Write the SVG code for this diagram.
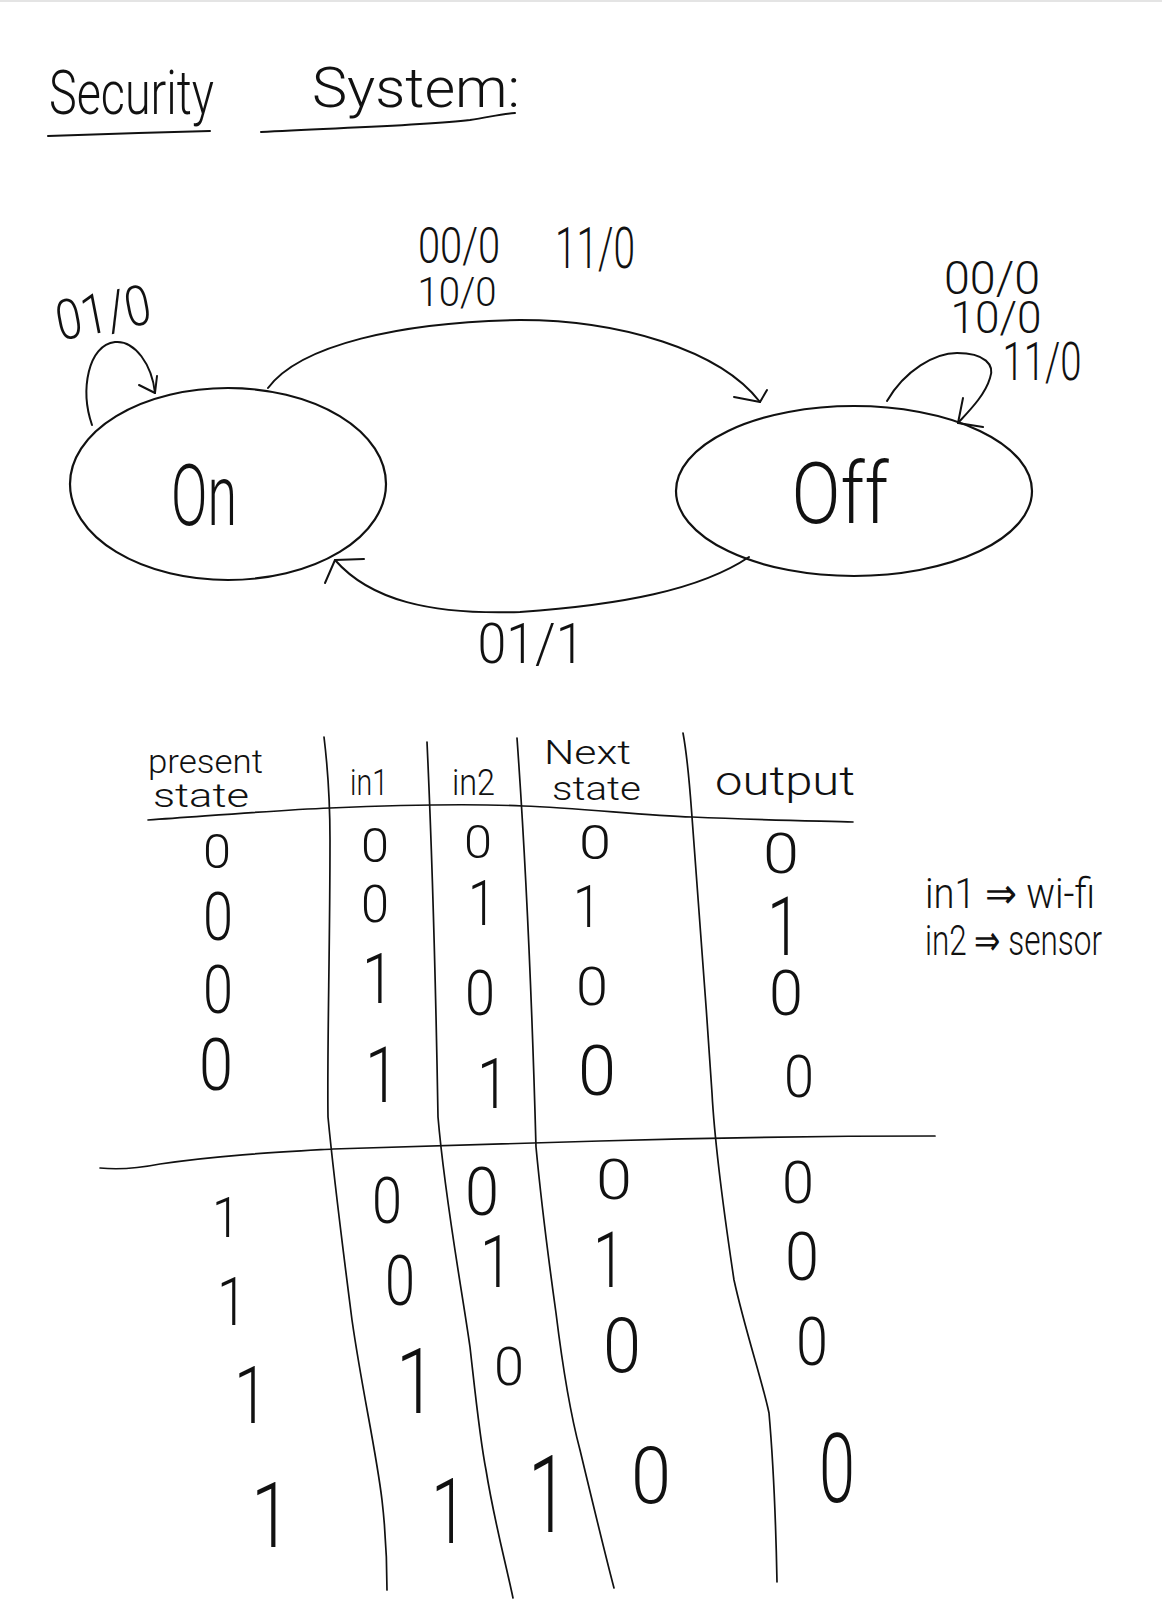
<svg xmlns="http://www.w3.org/2000/svg" width="1162" height="1600" viewBox="0 0 1162 1600">
<defs>
<style>
.hw{font-family:Roboto,"Liberation Sans",sans-serif;font-weight:300;fill:#111;}
.m{text-anchor:middle;}
.ln{fill:none;stroke:#111;stroke-width:2;stroke-linecap:round;stroke-linejoin:round;}
.tl{fill:none;stroke:#111;stroke-width:1.7;stroke-linecap:round;stroke-linejoin:round;}
.st{fill:none;stroke:#111;stroke-width:2.2;}
</style>
</defs>
<rect x="0" y="0" width="1162" height="1600" fill="#fff"/>
<rect x="0" y="0" width="1162" height="2" fill="#e4e4e4"/>

<g id="title">
<text class="hw" x="49" y="114" font-size="62" textLength="165" lengthAdjust="spacingAndGlyphs">Security</text>
<text class="hw" x="312" y="107" font-size="55" textLength="208" lengthAdjust="spacingAndGlyphs">System:</text>
<path class="ln" d="M48,136 Q130,133 210,131"/>
<path class="ln" d="M261,132 C330,128 420,126 470,120 C490,117 500,114 515,113"/>
</g>

<g id="node-on">
<ellipse class="st" cx="228" cy="484" rx="158" ry="96"/>
<text class="hw m" x="204" y="525" font-size="86" textLength="66" lengthAdjust="spacingAndGlyphs">On</text>
</g>

<g id="node-off">
<ellipse class="st" cx="854" cy="491" rx="178" ry="85"/>
<text class="hw m" x="840" y="523" font-size="86" textLength="97" lengthAdjust="spacingAndGlyphs">Off</text>
</g>

<g id="connectors">
<path class="ln" d="M268,388 C300,345 400,322 520,320 C620,320 720,350 760,402"/>
<path class="ln" d="M734,397 L760,402 L767,390"/>
<path class="ln" d="M749,557 C700,590 620,605 520,612 C430,615 370,600 335,560"/>
<path class="ln" d="M364,559 L335,560 L325,583"/>
<path class="ln" d="M92,425 C80,390 88,345 115,342 C135,340 152,365 155,393"/>
<path class="ln" d="M139,385 L155,393 L157,376"/>
<path class="ln" d="M887,401 C905,370 935,353 957,353 C985,353 995,365 990,378 C985,395 970,410 958,423"/>
<path class="ln" d="M963,398 L958,423 L983,427"/>
</g>

<g id="labels">
<text class="hw m" x="103" y="332" font-size="56" textLength="96" lengthAdjust="spacingAndGlyphs" transform="rotate(-11 103 312)">01/0</text>
<text class="hw m" x="459" y="263" font-size="50" textLength="82" lengthAdjust="spacingAndGlyphs">00/0</text>
<text class="hw m" x="457" y="306" font-size="40" textLength="79" lengthAdjust="spacingAndGlyphs">10/0</text>
<text class="hw m" x="595" y="268" font-size="57" textLength="80" lengthAdjust="spacingAndGlyphs">11/0</text>
<text class="hw m" x="992" y="294" font-size="46" textLength="96" lengthAdjust="spacingAndGlyphs">00/0</text>
<text class="hw m" x="996" y="333" font-size="44" textLength="91" lengthAdjust="spacingAndGlyphs">10/0</text>
<text class="hw m" x="1042" y="380" font-size="54" textLength="79" lengthAdjust="spacingAndGlyphs">11/0</text>
<text class="hw m" x="531" y="663" font-size="56" textLength="107" lengthAdjust="spacingAndGlyphs">01/1</text>
</g>

<g id="table">
<text class="hw" x="148" y="773" font-size="34" textLength="115" lengthAdjust="spacingAndGlyphs">present</text>
<text class="hw" x="153" y="807" font-size="34" textLength="96" lengthAdjust="spacingAndGlyphs">state</text>
<text class="hw" x="350" y="795" font-size="36" textLength="38" lengthAdjust="spacingAndGlyphs">in1</text>
<text class="hw" x="452" y="795" font-size="36" textLength="43" lengthAdjust="spacingAndGlyphs">in2</text>
<text class="hw" x="544" y="764" font-size="34" textLength="87" lengthAdjust="spacingAndGlyphs">Next</text>
<text class="hw" x="552" y="800" font-size="34" textLength="89" lengthAdjust="spacingAndGlyphs">state</text>
<text class="hw" x="715" y="795" font-size="40" textLength="140" lengthAdjust="spacingAndGlyphs">output</text>

<path class="tl" d="M148,820 C220,815 280,810 330,808 C400,805 480,804 523,806 C580,808 640,815 692,817 C760,820 820,821 853,822"/>
<path class="tl" d="M100,1168 C120,1170 140,1168 160,1164 C220,1155 281,1152 333,1149 C450,1146 539,1143 600,1141 C700,1138 800,1136 935,1136"/>

<path class="tl" d="M324,737 C328,770 330,800 330,840 C330,950 327,1050 328,1117 C334,1180 343,1250 352,1320 C362,1390 376,1450 382,1500 C386,1535 387,1560 387,1590"/>
<path class="tl" d="M427,742 C432,850 436,1000 438,1117 C445,1200 462,1290 470,1347 C476,1400 480,1440 486,1470 C494,1520 505,1560 513,1598"/>
<path class="tl" d="M517,738 C525,850 532,1000 536,1147 C542,1210 550,1270 556,1313 C563,1370 572,1420 580,1450 C592,1500 604,1550 614,1588"/>
<path class="tl" d="M683,733 C688,760 690,790 692,817 C698,900 706,1000 712,1093 C715,1150 725,1220 734,1280 C745,1330 762,1380 769,1413 C774,1470 776,1530 777,1582"/>

<g class="hw m">
<text x="217" y="868" font-size="49" textLength="28" lengthAdjust="spacingAndGlyphs">0</text>
<text x="375" y="862" font-size="48" textLength="28" lengthAdjust="spacingAndGlyphs">0</text>
<text x="478" y="858" font-size="46" textLength="28" lengthAdjust="spacingAndGlyphs">0</text>
<text x="595" y="859" font-size="48" textLength="32" lengthAdjust="spacingAndGlyphs">0</text>
<text x="781" y="873" font-size="56" textLength="36" lengthAdjust="spacingAndGlyphs">0</text>

<text x="218" y="940" font-size="66" textLength="30" lengthAdjust="spacingAndGlyphs">0</text>
<text x="375" y="922" font-size="52" textLength="28" lengthAdjust="spacingAndGlyphs">0</text>
<text x="482" y="925" font-size="63" textLength="28" lengthAdjust="spacingAndGlyphs">1</text>
<text x="587" y="927" font-size="59" textLength="28" lengthAdjust="spacingAndGlyphs">1</text>
<text x="784" y="955" font-size="82" textLength="34" lengthAdjust="spacingAndGlyphs">1</text>

<text x="218" y="1013" font-size="67" textLength="30" lengthAdjust="spacingAndGlyphs">0</text>
<text x="378" y="1003" font-size="70" textLength="32" lengthAdjust="spacingAndGlyphs">1</text>
<text x="480" y="1015" font-size="63" textLength="30" lengthAdjust="spacingAndGlyphs">0</text>
<text x="592" y="1005" font-size="53" textLength="32" lengthAdjust="spacingAndGlyphs">0</text>
<text x="786" y="1015" font-size="63" textLength="34" lengthAdjust="spacingAndGlyphs">0</text>

<text x="216" y="1090" font-size="73" textLength="34" lengthAdjust="spacingAndGlyphs">0</text>
<text x="382" y="1102" font-size="77" textLength="34" lengthAdjust="spacingAndGlyphs">1</text>
<text x="493" y="1108" font-size="70" textLength="32" lengthAdjust="spacingAndGlyphs">1</text>
<text x="597" y="1095" font-size="70" textLength="38" lengthAdjust="spacingAndGlyphs">0</text>
<text x="799" y="1097" font-size="59" textLength="30" lengthAdjust="spacingAndGlyphs">0</text>

<text x="226" y="1237" font-size="56" textLength="28" lengthAdjust="spacingAndGlyphs">1</text>
<text x="387" y="1223" font-size="65" textLength="30" lengthAdjust="spacingAndGlyphs">0</text>
<text x="482" y="1215" font-size="66" textLength="34" lengthAdjust="spacingAndGlyphs">0</text>
<text x="614" y="1199" font-size="55" textLength="36" lengthAdjust="spacingAndGlyphs">0</text>
<text x="798" y="1203" font-size="60" textLength="32" lengthAdjust="spacingAndGlyphs">0</text>

<text x="232" y="1325" font-size="66" textLength="30" lengthAdjust="spacingAndGlyphs">1</text>
<text x="400" y="1305" font-size="70" textLength="30" lengthAdjust="spacingAndGlyphs">0</text>
<text x="496" y="1287" font-size="72" textLength="32" lengthAdjust="spacingAndGlyphs">1</text>
<text x="609" y="1287" font-size="77" textLength="32" lengthAdjust="spacingAndGlyphs">1</text>
<text x="802" y="1280" font-size="67" textLength="34" lengthAdjust="spacingAndGlyphs">0</text>

<text x="251" y="1423" font-size="79" textLength="34" lengthAdjust="spacingAndGlyphs">1</text>
<text x="416" y="1413" font-size="91" textLength="40" lengthAdjust="spacingAndGlyphs">1</text>
<text x="509" y="1385" font-size="53" textLength="30" lengthAdjust="spacingAndGlyphs">0</text>
<text x="622" y="1372" font-size="76" textLength="38" lengthAdjust="spacingAndGlyphs">0</text>
<text x="812" y="1365" font-size="67" textLength="32" lengthAdjust="spacingAndGlyphs">0</text>

<text x="271" y="1547" font-size="90" textLength="40" lengthAdjust="spacingAndGlyphs">1</text>
<text x="449" y="1543" font-size="91" textLength="36" lengthAdjust="spacingAndGlyphs">1</text>
<text x="548" y="1532" font-size="108" textLength="40" lengthAdjust="spacingAndGlyphs">1</text>
<text x="651" y="1503" font-size="79" textLength="40" lengthAdjust="spacingAndGlyphs">0</text>
<text x="837" y="1502" font-size="97" textLength="36" lengthAdjust="spacingAndGlyphs">0</text>
</g>
</g>

<g id="legend">
<text class="hw" x="925" y="908" font-size="42" textLength="170" lengthAdjust="spacingAndGlyphs">in1 ⇒ wi-fi</text>
<text class="hw" x="925" y="955" font-size="42" textLength="177" lengthAdjust="spacingAndGlyphs">in2 ⇒ sensor</text>
</g>
</svg>
